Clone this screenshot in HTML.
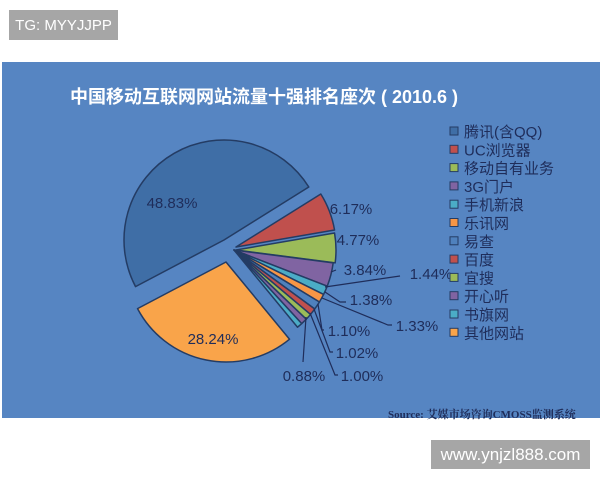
<!DOCTYPE html>
<html><head><meta charset="utf-8"><style>
body{margin:0;width:600px;height:480px;background:#fff;overflow:hidden;position:relative;font-family:"Liberation Sans","Noto Sans CJK SC",sans-serif}
.wm{position:absolute;background:#a6a6a6;color:#fff;font-size:15px;display:flex;align-items:center;justify-content:center}
#panel{position:absolute;left:2px;top:62px;width:598px;height:356px;background:#5685c2}
</style></head><body>
<div class="wm" style="left:9px;top:10px;width:109px;height:30px">TG: MYYJJPP</div>
<div class="wm" style="left:431px;top:440px;width:159px;height:29px;font-size:17px">www.ynjzl888.com</div>
<div id="panel"></div>
<svg id="s" width="600" height="480" style="position:absolute;left:0;top:0">
<text x="264" y="103" text-anchor="middle" fill="#fff" font-weight="bold" font-size="18" font-family="'Liberation Sans','Noto Sans CJK SC',sans-serif">中国移动互联网网站流量十强排名座次 ( 2010.6 )</text>
<text x="388" y="418" fill="#1f2d5a" font-weight="bold" font-size="11" font-family="'Liberation Serif','Noto Serif CJK SC',serif">Source: 艾媒市场咨询CMOSS监测系统</text>
<g id="pie"></g><g id="lab"></g><g id="leg"></g>
</svg>
<script>
var F="'Liberation Sans','Noto Sans CJK SC',sans-serif";
var data=[[48.83,'#3f6ea6','腾讯(含QQ)',-10,-10],[6.17,'#c0504d','UC浏览器',2,-3],[4.77,'#9bbb59','移动自有业务',2,0],[3.84,'#8064a2','3G门户',0,0],[1.44,'#4bacc6','手机新浪',0,0],[1.38,'#f79646','乐讯网',0,0],[1.33,'#4f81bd','易查',0,0],[1.10,'#c0504d','百度',0,0],[1.02,'#9bbb59','宜搜',0,0],[1.00,'#8064a2','开心听',0,0],[0.88,'#4bacc6','书旗网',0,0],[28.24,'#f9a44a','其他网站',-8,12]];
var cx=234,cy=250,r=100,a=-32,h='';
data.forEach(function(d,i){
 var sweep=d[0]*3.6,a0,a1;
 if(i==0){a0=a-sweep;a1=a;}else{a0=a;a1=a+sweep;a=a1;}
 var R=Math.PI/180,x=cx+d[3],y=cy+d[4];
 var p='M'+x+','+y+' L'+(x+r*Math.cos(a0*R))+','+(y+r*Math.sin(a0*R))+' A'+r+','+r+' 0 '+(sweep>180?1:0)+' 1 '+(x+r*Math.cos(a1*R))+','+(y+r*Math.sin(a1*R))+'Z';
 h+='<path d="'+p+'" fill="'+d[1]+'" stroke="#243c64" stroke-width="1.5" stroke-linejoin="round"/>';
});
document.getElementById('pie').innerHTML=h;
var L=[['48.83%',172,208],['6.17%',351,214],['4.77%',358,245],['3.84%',365,275],['1.44%',431,279],['1.38%',371,305],['1.33%',417,331],['1.10%',349,336],['1.02%',357,358],['1.00%',362,381],['0.88%',304,381],['28.24%',213,344]];
var t='';
L.forEach(function(l){t+='<text x="'+l[1]+'" y="'+l[2]+'" text-anchor="middle" fill="#1f2d5a" font-size="15" font-family="'+F+'">'+l[0]+'</text>';});
t+='<g stroke="#1f2d5a" stroke-width="1.2" fill="none"><polyline points="331,272 336,270"/><polyline points="325,287 400,276"/><polyline points="325,292 340,302 346,302"/><polyline points="322,298 388,325 392,325"/><polyline points="318,304 322,330 324,330"/><polyline points="314,309 330,352 333,352"/><polyline points="310,313 335,375 338,375"/><polyline points="306,317 303,362"/></g>';
var y=132;data.forEach(function(d){t+='<rect x="450" y="'+(y-5)+'" width="8" height="8" fill="'+d[1]+'" stroke="#243c64" stroke-width="1"/><text x="464" y="'+(y+5)+'" fill="#1f2d5a" font-size="15" font-family="'+F+'">'+d[2]+'</text>';y+=18.3;});
document.getElementById('lab').innerHTML=t;
</script>
</body></html>
